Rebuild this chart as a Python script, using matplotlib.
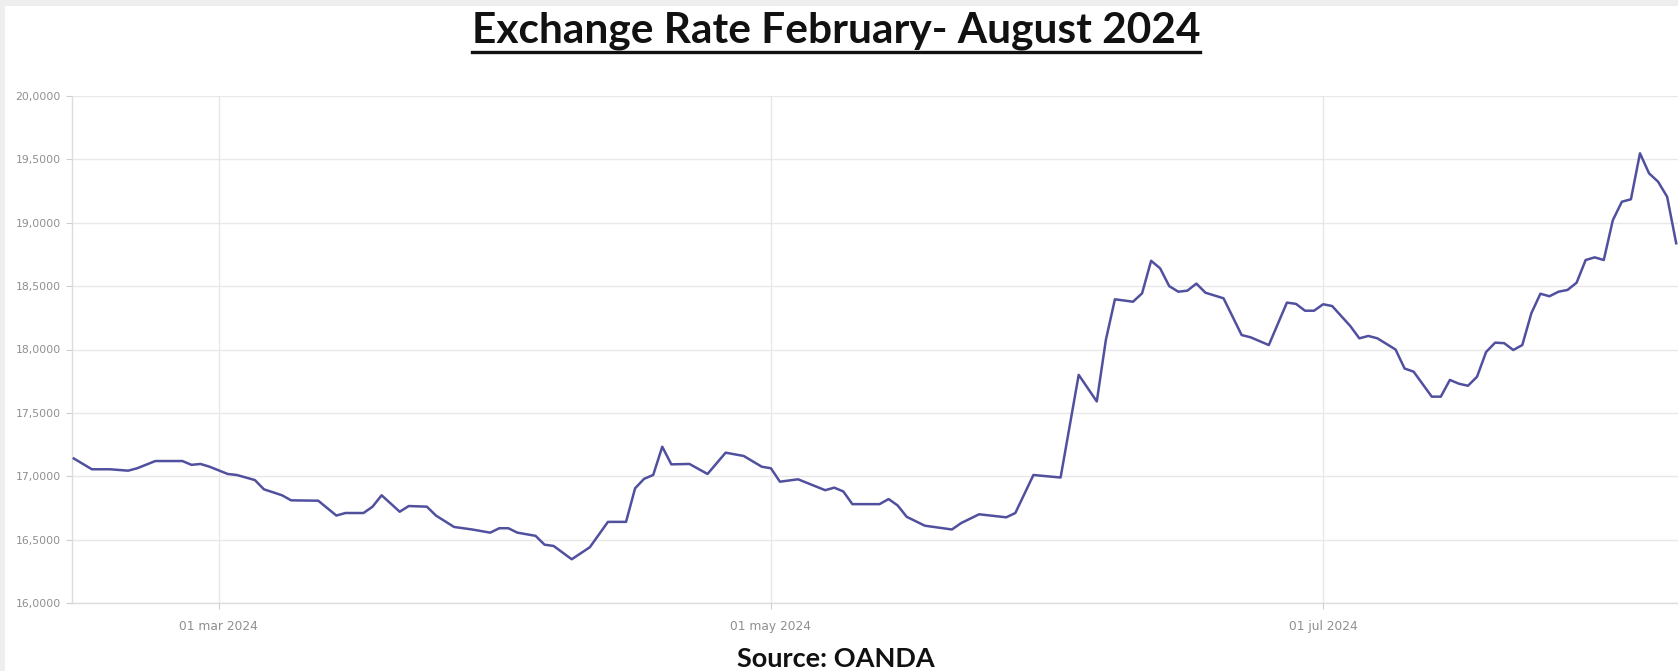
import matplotlib
matplotlib.use("Agg")
import matplotlib.pyplot as plt
import matplotlib.dates as mdates
from matplotlib.lines import Line2D
from matplotlib.patches import Rectangle
import pandas as pd

# ---- data ----
dates = [
    "2024-02-14", "2024-02-16", "2024-02-18", "2024-02-20", "2024-02-21", "2024-02-23",
    "2024-02-26", "2024-02-27", "2024-02-28", "2024-02-29", "2024-03-02", "2024-03-03",
    "2024-03-05", "2024-03-06", "2024-03-08", "2024-03-09", "2024-03-12", "2024-03-14",
    "2024-03-15", "2024-03-17", "2024-03-18", "2024-03-19", "2024-03-21", "2024-03-22",
    "2024-03-24", "2024-03-25", "2024-03-27", "2024-03-29", "2024-03-31", "2024-04-01",
    "2024-04-02", "2024-04-03", "2024-04-05", "2024-04-06", "2024-04-07", "2024-04-09",
    "2024-04-11", "2024-04-13", "2024-04-15", "2024-04-16", "2024-04-17", "2024-04-18",
    "2024-04-19", "2024-04-20", "2024-04-22", "2024-04-24", "2024-04-26", "2024-04-28",
    "2024-04-30", "2024-05-01", "2024-05-02", "2024-05-04", "2024-05-07", "2024-05-08",
    "2024-05-09", "2024-05-10", "2024-05-13", "2024-05-14", "2024-05-15", "2024-05-16",
    "2024-05-18", "2024-05-21", "2024-05-22", "2024-05-24", "2024-05-27", "2024-05-28",
    "2024-05-30", "2024-06-02", "2024-06-04", "2024-06-06", "2024-06-07", "2024-06-08",
    "2024-06-10", "2024-06-11", "2024-06-12", "2024-06-13", "2024-06-14", "2024-06-15",
    "2024-06-16", "2024-06-17", "2024-06-18", "2024-06-20", "2024-06-22", "2024-06-23",
    "2024-06-25", "2024-06-27", "2024-06-28", "2024-06-29", "2024-06-30", "2024-07-01",
    "2024-07-02", "2024-07-04", "2024-07-05", "2024-07-06", "2024-07-07", "2024-07-09",
    "2024-07-10", "2024-07-11", "2024-07-13", "2024-07-14", "2024-07-15", "2024-07-16",
    "2024-07-17", "2024-07-18", "2024-07-19", "2024-07-20", "2024-07-21", "2024-07-22",
    "2024-07-23", "2024-07-24", "2024-07-25", "2024-07-26", "2024-07-27", "2024-07-28",
    "2024-07-29", "2024-07-30", "2024-07-31", "2024-08-01", "2024-08-02", "2024-08-03",
    "2024-08-04", "2024-08-05", "2024-08-06", "2024-08-07", "2024-08-08", "2024-08-09",
]
rates = [
    17.140, 17.055, 17.055, 17.044, 17.063, 17.120,
    17.120, 17.090, 17.097, 17.075, 17.018, 17.010,
    16.970, 16.897, 16.850, 16.810, 16.807, 16.690,
    16.710, 16.710, 16.760, 16.850, 16.720, 16.765,
    16.760, 16.690, 16.600, 16.580, 16.555, 16.590,
    16.590, 16.555, 16.530, 16.460, 16.450, 16.345,
    16.440, 16.640, 16.640, 16.905, 16.980, 17.010,
    17.233, 17.094, 17.097, 17.018, 17.186, 17.160,
    17.075, 17.063, 16.957, 16.976, 16.890, 16.910,
    16.880, 16.780, 16.780, 16.820, 16.770, 16.680,
    16.610, 16.580, 16.630, 16.700, 16.676, 16.710,
    17.010, 16.990, 17.800, 17.590, 18.075, 18.396,
    18.377, 18.443, 18.700, 18.640, 18.500, 18.456,
    18.464, 18.520, 18.448, 18.404, 18.114, 18.096,
    18.035, 18.370, 18.360, 18.306, 18.306, 18.357,
    18.343, 18.185, 18.088, 18.107, 18.088, 18.000,
    17.850, 17.825, 17.628, 17.628, 17.760, 17.730,
    17.714, 17.785, 17.980, 18.054, 18.050, 17.996,
    18.035, 18.286, 18.440, 18.420, 18.456, 18.470,
    18.527, 18.706, 18.727, 18.706, 19.020, 19.166,
    19.185, 19.548, 19.390, 19.324, 19.205, 18.838,
]
y_ticks = [16.0, 16.5, 17.0, 17.5, 18.0, 18.5, 19.0, 19.5, 20.0]
y_tick_labels = ["16,0000", "16,5000", "17,0000", "17,5000", "18,0000",
                 "18,5000", "19,0000", "19,5000", "20,0000"]
x_tick_dates = ["2024-03-01", "2024-05-01", "2024-07-01"]
x_tick_labels = ["01 mar 2024", "01 may 2024", "01 jul 2024"]
title_text = "Exchange Rate February- August 2024"
source_text = "Source: OANDA"

# ---- figure ----
W, H = 1678, 671
fig = plt.figure(figsize=(W / 100, H / 100), dpi=100, facecolor="#eeeeee")
fig.patches.append(Rectangle((5 / W, 0), 1, 1 - 6 / H, transform=fig.transFigure,
                             facecolor="white", edgecolor="none", zorder=-10))

ax_l, ax_r, ax_t, ax_b = 72, 1678, 96, 603
ax = fig.add_axes([ax_l / W, 1 - ax_b / H, (ax_r - ax_l) / W, (ax_b - ax_t) / H])
ax.set_zorder(2)
ax.set_facecolor("white")

x = pd.to_datetime(dates)
ax.plot(x, rates, color="#50509f", linewidth=1.8, solid_joinstyle="round", zorder=3)

ax.set_ylim(16.0, 20.0)
x0 = mdates.date2num(pd.Timestamp("2024-03-01"))
ax.set_xlim(x0 - 16.2, x0 + 161.2)

ax.set_yticks(y_ticks)
ax.set_yticklabels(y_tick_labels)
ax.set_xticks(pd.to_datetime(x_tick_dates))
ax.set_xticklabels(x_tick_labels)

ax.grid(True, color="#e8e8e8", linewidth=1.0, zorder=0)
ax.set_axisbelow(True)
for s in ["top", "right"]:
    ax.spines[s].set_visible(False)
for s in ["left", "bottom"]:
    ax.spines[s].set_color("#dcdcdc")
    ax.spines[s].set_linewidth(1.0)

ax.tick_params(axis="y", length=4, width=0.8, color="#cfcfcf", labelsize=7.8,
               labelcolor="#8f8f8f", pad=4)
ax.tick_params(axis="x", length=4, width=0.8, color="#cfcfcf", labelsize=8.8,
               labelcolor="#8f8f8f", pad=8)

# ---- title with underline ----
fam = ["Lato", "DejaVu Sans"]
t = fig.text(836 / W, 1 - 42 / H, title_text, ha="center", va="baseline",
             fontsize=30, fontweight="bold", family=fam, color="#111111")
s = fig.text(836 / W, 1 - 667 / H, source_text, ha="center", va="baseline",
             fontsize=20, fontweight="bold", family=fam, color="#111111")

fig.canvas.draw()
r = fig.canvas.get_renderer()
for txt, target in [(t, 728.0), (s, 198.0)]:
    wdt = txt.get_window_extent(r).width
    txt.set_fontsize(txt.get_fontsize() * target / wdt)
fig.canvas.draw()
bb = t.get_window_extent(r)
uy = 1 - 52 / H
fig.add_artist(Line2D([bb.x0 / W, bb.x1 / W], [uy, uy], transform=fig.transFigure,
                      color="#111111", linewidth=2.4))

fig.savefig("out.png", dpi=100, facecolor=fig.get_facecolor())
